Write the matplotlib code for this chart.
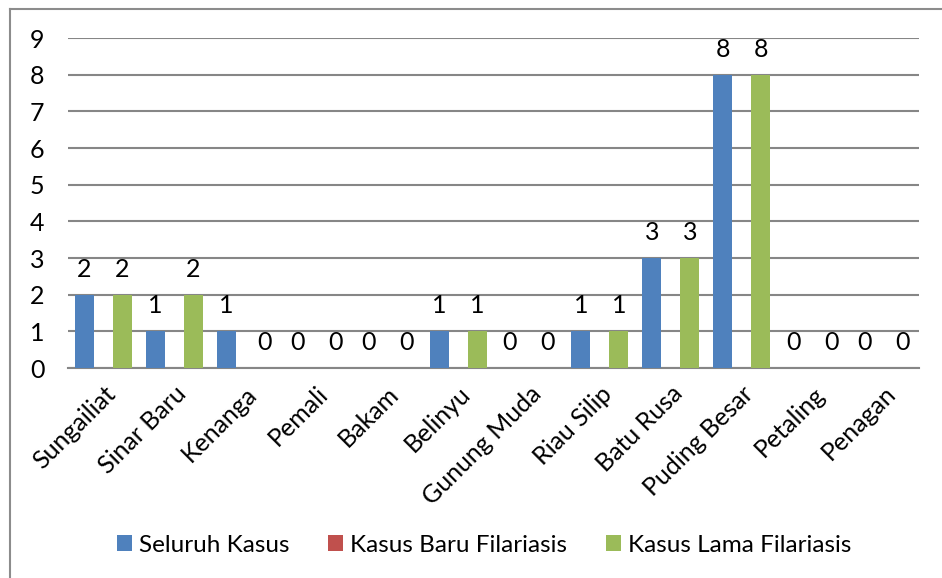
import numpy as np
import matplotlib
matplotlib.use("Agg")
import matplotlib.pyplot as plt
from matplotlib.lines import Line2D

# === DATA ===
categories = ['Sungailiat', 'Sinar Baru', 'Kenanga', 'Pemali', 'Bakam', 'Belinyu',
              'Gunung Muda', 'Riau Silip', 'Batu Rusa', 'Puding Besar', 'Petaling', 'Penagan']
seluruh_kasus = [2, 1, 1, 0, 0, 1, 0, 1, 3, 8, 0, 0]
kasus_baru = [0, 0, 0, 0, 0, 0, 0, 0, 0, 0, 0, 0]
kasus_lama = [2, 2, 0, 0, 0, 1, 0, 1, 3, 8, 0, 0]
series_names = ['Seluruh Kasus', 'Kasus Baru Filariasis', 'Kasus Lama Filariasis']
colors = ['#4F81BD', '#C0504D', '#9BBB59']

plt.rcParams['font.family'] = ['Lato', 'DejaVu Sans']
fs = 18

W, H = 942, 578
fig = plt.figure(figsize=(W / 100, H / 100), dpi=100)
ax = fig.add_axes([68 / W, 1 - 368 / H, (919 - 68) / W, (368 - 38) / H])

x = np.arange(len(categories))
bw = 0.268
all_series = [seluruh_kasus, kasus_baru, kasus_lama]
for k, (vals, name, col) in enumerate(zip(all_series, series_names, colors)):
    bars = ax.bar(x + (k - 1) * bw, vals, width=bw, color=col, label=name, zorder=3)
    # labels only on the blue and green series
    if k != 1:
        for b, v in zip(bars, vals):
            ax.annotate(str(v), (b.get_x() + b.get_width() / 2, v),
                        xytext=(0, 10), textcoords='offset points',
                        ha='center', va='bottom', fontsize=fs, color='black')

ax.set_xlim(-0.5, len(categories) - 0.5)
ax.set_ylim(0, 9)
ax.set_yticks(range(10))
ax.yaxis.grid(True, color='#868686', linewidth=1.5, zorder=0)
ax.set_axisbelow(True)
for s in ['top', 'right', 'left']:
    ax.spines[s].set_visible(False)
ax.spines['bottom'].set_color('#868686')
ax.spines['bottom'].set_linewidth(1.5)
ax.tick_params(axis='both', length=0, labelsize=fs)
ax.tick_params(axis='y', pad=17)
ax.set_xticks(x)
ax.set_xticklabels(categories, rotation=45, ha='right', rotation_mode='anchor')
ax.tick_params(axis='x', pad=10)

fig.legend(loc='center', bbox_to_anchor=(484 / W, 1 - 545 / H), ncol=3, frameon=False,
           fontsize=17.5, handlelength=0.62, handleheight=0.62, handletextpad=0.28,
           columnspacing=1.6)

# outer chart frame (left and top edges visible)
fig.add_artist(Line2D([10 / W, 10 / W], [0, 1 - 9 / H], color='#8c8c8c', linewidth=1.5))
fig.add_artist(Line2D([10 / W, 1], [1 - 9 / H, 1 - 9 / H], color='#8c8c8c', linewidth=1.5))

fig.savefig('out.png', dpi=100)
